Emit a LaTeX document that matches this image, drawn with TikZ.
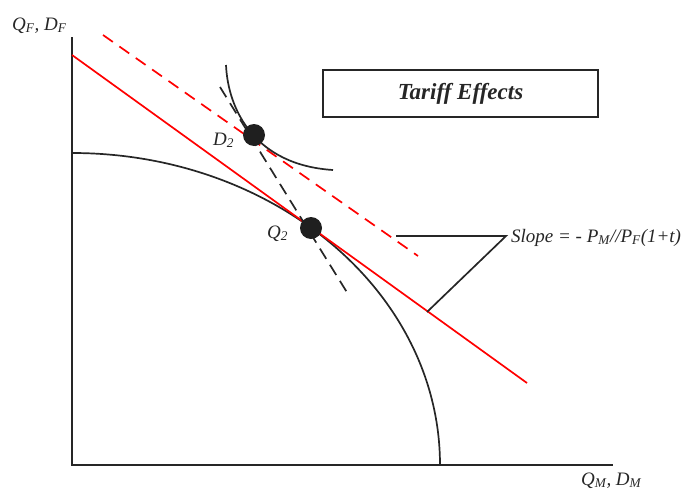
\documentclass[tikz,border=0pt]{standalone}
\usepackage{fontspec}
\setmainfont{Liberation Serif}
\begin{document}
\begin{tikzpicture}[x=1pt,y=-1pt,
  axis/.style={line width=1.8pt,black!85},
  curve/.style={line width=1.7pt,black!85},
  redl/.style={line width=1.7pt,red},
  lbl/.style={font=\fontsize{19}{21}\selectfont\itshape,inner sep=0pt,text=black!85},
  dot/.style={circle,fill=black!88,minimum size=22pt,inner sep=0pt}]
\useasboundingbox (0,0) rectangle (691,490);
% axes
\coordinate (ytop) at (72,37);
\coordinate (orig) at (72,465);
\coordinate (xend) at (613,465);
\draw[axis] (ytop) -- (orig) -- (xend);
\node[lbl,anchor=base west] (ylab) at (12,30) {Q\textsubscript{F}, D\textsubscript{F}};
\node[lbl,anchor=base west] (xlab) at (581,485) {Q\textsubscript{M}, D\textsubscript{M}};
% production possibility frontier
\draw[curve] (72,153) arc[start angle=-90,end angle=0,x radius=368,y radius=312];
% world price line
\coordinate (r1) at (72,55);
\coordinate (r2) at (527,383);
\draw[redl] (r1) -- (r2);
% dashed red line
\coordinate (rd1) at (103,35);
\coordinate (rd2) at (418,256);
\draw[redl,dash pattern=on 12pt off 8pt] (rd1) -- (rd2);
% black dashed tangent
\coordinate (bd1) at (220,87);
\coordinate (bd2) at (348,294);
\draw[curve,dash pattern=on 12pt off 7pt] (bd1) -- (bd2);
% indifference curve
\draw[curve] (226,65) .. controls (228,110) and (255,165) .. (333,170);
% points
\node[dot] (D2) at (254,135) {};
\node[dot] (Q2) at (311,228) {};
\node[lbl,anchor=base west] (d2lab) at (213,145) {D\textsubscript{2}};
\node[lbl,anchor=base west] (q2lab) at (267,238) {Q\textsubscript{2}};
% title box
\node[draw,line width=1.8pt,black!85,minimum width=275pt,minimum height=47pt,
  font=\fontsize{23}{25}\selectfont\bfseries\itshape,text=black!85] (title) at (460.5,93.5) {Tariff Effects};
% slope label with pointer lines
\node[lbl,anchor=base west] (slope) at (511,242) {Slope = - P\textsubscript{M}//P\textsubscript{F}(1+t)};
\coordinate (p1) at (396,236);
\coordinate (p2) at (506,236);
\coordinate (p3) at (427,312);
\draw[curve] (p1) -- (p2) -- (p3);
\end{tikzpicture}
\end{document}
